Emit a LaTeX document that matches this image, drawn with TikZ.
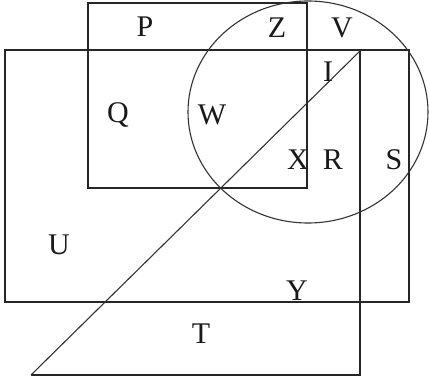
\documentclass[tikz,border=0pt]{standalone}
\usepackage{fontspec}
\setmainfont{Liberation Serif}
\begin{document}
\begin{tikzpicture}[x=1pt,y=-1pt,
  lbl/.style={font=\fontsize{30}{30}\selectfont, inner sep=0pt, text=black!90},
  edge/.style={draw=black!85, line width=1.6pt},
  thin/.style={draw=black!80, line width=1.1pt}]
\useasboundingbox (0,0) rectangle (429,387);
% small rectangle
\draw[edge] (88,3) rectangle (307,188);
% large rectangle
\draw[edge] (5,50) rectangle (409,302);
% triangle
\coordinate (A) at (31,375);
\coordinate (B) at (360,375);
\coordinate (C) at (360,51);
\draw[edge] (A) -- (B) -- (C);
\draw[thin] (C) -- (A);
% ellipse
\draw[thin] (308,112) ellipse [x radius=120, y radius=111];
% labels
\node[lbl] (P) at (145,27) {P};
\node[lbl] (Z) at (277,28) {Z};
\node[lbl] (V) at (342,28) {V};
\node[lbl] (I) at (328,72) {I};
\node[lbl] (Q) at (118,115) {Q};
\node[lbl] (W) at (212,115) {W};
\node[lbl] (X) at (298,160) {X};
\node[lbl] (R) at (333,160) {R};
\node[lbl] (S) at (394,160) {S};
\node[lbl] (U) at (59,245) {U};
\node[lbl] (Y) at (297,291) {Y};
\node[lbl] (T) at (201,334) {T};
\end{tikzpicture}
\end{document}
